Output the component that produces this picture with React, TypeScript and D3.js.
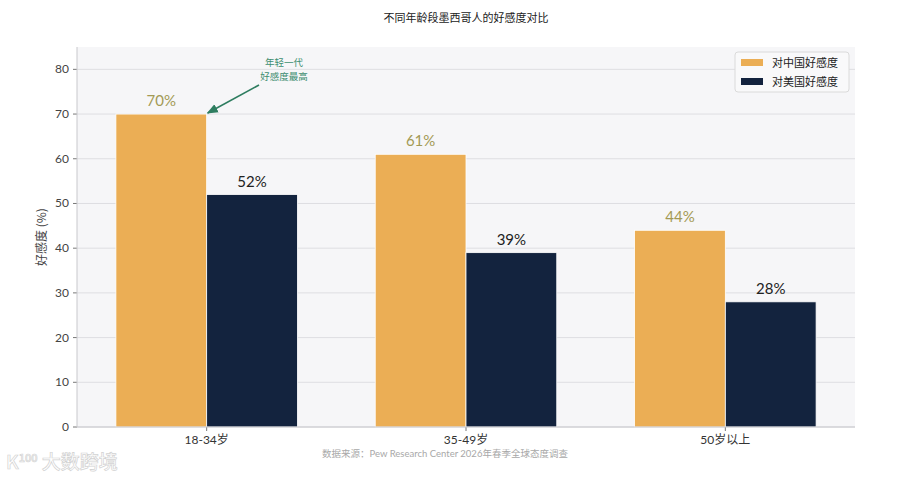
import { scaleLinear, scaleBand } from "d3";
import React from "react";

const categories = ["18-34岁", "35-49岁", "50岁以上"];
const chinaValues = [70, 61, 44];
const usValues = [52, 39, 28];
const seriesNames = ["对中国好感度", "对美国好感度"];
const yTicks = [0, 10, 20, 30, 40, 50, 60, 70, 80];

const width = 900;
const height = 477;
const left = 77;
const right = 855;
const top = 47;
const bottom = 427;

const orange = "#EBAE55";
const navy = "#13233E";
const cjk = "'Noto Sans CJK SC', sans-serif";
const num = "Lato, 'Noto Sans CJK SC', sans-serif";

export default function App() {
  const x = scaleBand().domain(categories).range([left, right]).padding(0);
  const y = scaleLinear().domain([0, 85]).range([bottom, top]);
  const bw = x.bandwidth() * 0.35;

  return (
    <svg
      width={width}
      height={height}
      style={{ position: "absolute", left: 0, top: 0, background: "#fff" }}
    >
      <defs>
        <marker id="arr" viewBox="0 0 10 10" refX="9" refY="5" markerWidth="7" markerHeight="7" orient="auto">
          <path d="M0,1 L10,5 L0,9 z" fill="#2E7D60" />
        </marker>
      </defs>

      <text x={(left + right) / 2} y={22} textAnchor="middle" fontSize={11} fontFamily={cjk} fill="#222">
        不同年龄段墨西哥人的好感度对比
      </text>

      <rect x={left} y={top} width={right - left} height={bottom - top} fill="#F6F6F8" />

      {yTicks.map((t) => (
        <g key={t}>
          <line x1={left} x2={right} y1={y(t)} y2={y(t)} stroke="#DEDEE2" strokeWidth={1} />
          <line x1={left - 4} x2={left} y1={y(t)} y2={y(t)} stroke="#777" />
          <text x={left - 8} y={y(t) + 4} textAnchor="end" fontSize={12} fontFamily={num} fill="#444">
            {t}
          </text>
        </g>
      ))}

      {categories.map((c, i) => {
        const cx = (x(c) ?? 0) + x.bandwidth() / 2;
        return (
          <g key={c}>
            <rect x={cx - bw} y={y(chinaValues[i])} width={bw} height={bottom - y(chinaValues[i])} fill={orange} stroke="#fff" strokeWidth={0.8} />
            <rect x={cx} y={y(usValues[i])} width={bw} height={bottom - y(usValues[i])} fill={navy} stroke="#fff" strokeWidth={0.8} />
            <text x={cx - bw / 2} y={y(chinaValues[i]) - 8} textAnchor="middle" fontSize={15} fontFamily={num} fill="#A39A55">
              {chinaValues[i]}%
            </text>
            <text x={cx + bw / 2} y={y(usValues[i]) - 8} textAnchor="middle" fontSize={15} fontFamily={num} fill="#222">
              {usValues[i]}%
            </text>
            <line x1={cx} x2={cx} y1={bottom} y2={bottom + 4} stroke="#777" />
            <text x={cx} y={bottom + 17} textAnchor="middle" fontSize={12} fontFamily={num} fill="#333">
              {c}
            </text>
          </g>
        );
      })}

      <line x1={left} x2={left} y1={top} y2={bottom} stroke="#C8C8CC" />
      <line x1={left} x2={right} y1={bottom} y2={bottom} stroke="#C8C8CC" />

      <text
        transform={`translate(46,${(top + bottom) / 2}) rotate(-90)`}
        textAnchor="middle"
        fontSize={12}
        fontFamily={cjk}
        fill="#444"
      >
        好感度 (%)
      </text>

      {/* annotation */}
      <text x={284} y={66} textAnchor="middle" fontSize={9.5} fontFamily={cjk} fill="#3E8E70">
        年轻一代
      </text>
      <text x={284} y={80} textAnchor="middle" fontSize={9.5} fontFamily={cjk} fill="#3E8E70">
        好感度最高
      </text>
      <line x1={259} y1={85} x2={x(categories[0])! + x.bandwidth() / 2 + 1} y2={y(chinaValues[0]) - 1} stroke="#2E7D60" strokeWidth={1.6} markerEnd="url(#arr)" />

      {/* legend */}
      <rect x={735} y={52} width={114} height={40} rx={3} fill="#F9F9FA" stroke="#DADADA" />
      {seriesNames.map((s, i) => (
        <g key={s}>
          <rect x={741} y={59 + i * 19} width={22} height={7} fill={i === 0 ? orange : navy} />
          <text x={772} y={67 + i * 19} fontSize={11} fontFamily={cjk} fill="#222">
            {s}
          </text>
        </g>
      ))}

      <text x={445} y={457} textAnchor="middle" fontSize={9.5} fontFamily={num} fill="#A8A8A8">
        数据来源：Pew Research Center 2026年春季全球态度调查
      </text>

      <text x={6} y={469} fontSize={19} fontFamily={cjk} fontWeight={500} fill="#fff" stroke="#D2D2D2" strokeWidth={0.7}>
        K<tspan fontSize={11} dy={-7}>100</tspan><tspan dy={7}> 大数跨境</tspan>
      </text>
    </svg>
  );
}
